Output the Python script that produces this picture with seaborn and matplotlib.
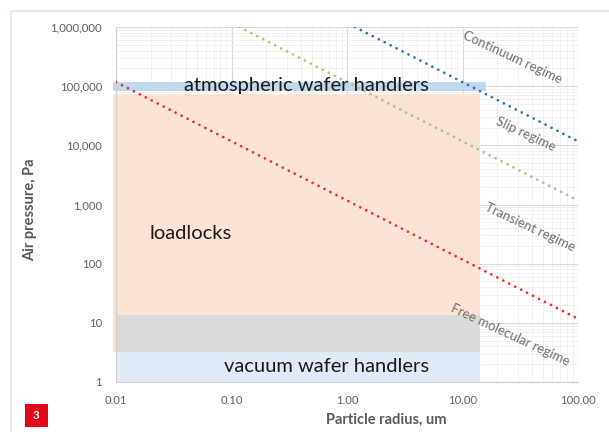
import matplotlib
matplotlib.use("Agg")
import matplotlib.pyplot as plt
import matplotlib.ticker as mticker
from matplotlib.patches import Rectangle
import numpy as np
import pandas as pd
import seaborn as sns

# ---- data ----
red_r = [0.01, 100]
red_p = [117000, 11.7]
green_r = [0.117, 100]
green_p = [1000000, 1170]
blue_r = [1.17, 100]
blue_p = [1000000, 11700]

region_names = ["loadlocks", "atmospheric wafer handlers", "gray", "vacuum wafer handlers"]
region_r_min = [0.0094, 0.0094, 0.01, 0.01]
region_r_max = [14.2, 16.0, 14.2, 14.2]
region_p_min = [3.2, 83000, 3.2, 1.0]
region_p_max = [74000, 117000, 13.6, 3.2]

regime_labels = ["Continuum regime", "Slip regime", "Transient regime", "Free molecular regime"]

x_ticks = [0.01, 0.1, 1, 10, 100]
x_tick_labels = ["0.01", "0.10", "1.00", "10.00", "100.00"]
y_ticks = [1, 10, 100, 1000, 10000, 100000, 1000000]
y_tick_labels = ["1", "10", "100", "1,000", "10,000", "100,000", "1,000,000"]

sns.set_theme(style="white")
plt.rcParams['font.family'] = ['Lato', 'DejaVu Sans']

W, H = 609, 432
fig = plt.figure(figsize=(W / 100, H / 100), dpi=100)
ax = fig.add_axes([116 / W, 1 - 382 / H, (578 - 116) / W, (382 - 27) / H])
ax.set_xscale("log")
ax.set_yscale("log")
ax.set_xlim(0.01, 100)
ax.set_ylim(1, 1e6)

# outer light-blue frame
fig.patches.append(Rectangle((11 / W, -0.2), 1.2, 1 - 11 / H + 0.2, transform=fig.transFigure,
                             fill=False, edgecolor="#dbe7f7", linewidth=1.2, zorder=0))

# grid
ax.grid(True, which="major", color="#d9d9d9", linewidth=0.8, zorder=0)
ax.grid(True, which="minor", color="#efefef", linewidth=0.6, zorder=0)
ax.xaxis.set_minor_locator(mticker.LogLocator(base=10, subs=np.arange(2, 10), numticks=20))
ax.yaxis.set_minor_locator(mticker.LogLocator(base=10, subs=np.arange(2, 10), numticks=20))
ax.set_axisbelow(True)

# regions
region_colors = ["#fbe2d3", "#bcd6ee", "#dadada", "#deeaf7"]
region_z = [1, 2, 2, 2]
for name, r0, r1, p0, p1, c, z in zip(region_names, region_r_min, region_r_max, region_p_min, region_p_max,
                                       region_colors, region_z):
    ax.add_patch(Rectangle((r0, p0), r1 - r0, p1 - p0, facecolor=c, edgecolor="none",
                           alpha=0.92, zorder=z, clip_on=False))

# regime boundary lines
dot = (0, (0.01, 2.4))
for rr, pp, col in [(blue_r, blue_p, "#2e6fc2"), (green_r, green_p, "#a8c585"), (red_r, red_p, "#ee2a2a")]:
    df = pd.DataFrame({"r": rr, "p": pp})
    sns.lineplot(data=df, x="r", y="p", ax=ax, color=col, linewidth=2.0,
                 linestyle=dot, dash_capstyle="round", zorder=4)

ax.set_xlabel("")
ax.set_ylabel("")

# ticks
ax.set_xticks(x_ticks)
ax.set_xticklabels(x_tick_labels)
ax.set_yticks(y_ticks)
ax.set_yticklabels(y_tick_labels)
ax.xaxis.set_minor_formatter(mticker.NullFormatter())
ax.yaxis.set_minor_formatter(mticker.NullFormatter())
ax.tick_params(axis="both", which="both", length=0, labelsize=8.2, labelcolor="#606060")
ax.tick_params(axis="x", pad=9)
ax.tick_params(axis="y", pad=10)

for s in ["top", "right"]:
    ax.spines[s].set_visible(False)
for s in ["left", "bottom"]:
    ax.spines[s].set_color("#cfcfcf")
    ax.spines[s].set_linewidth(0.8)

# region texts
def px(x, y):
    return x / W, 1 - y / H

fig.text(*px(306, 86), "atmospheric wafer handlers", fontsize=14.5, color="#1a1a1a",
         ha="center", va="center", zorder=6)
fig.text(*px(191, 234), "loadlocks", fontsize=14.5, color="#1a1a1a", ha="center", va="center")
fig.text(*px(327, 366), "vacuum wafer handlers", fontsize=14.5, color="#1a1a1a", ha="center", va="center")

# regime texts
for lab, (cx, cy) in zip(regime_labels, [(512, 57), (526, 134), (530, 227), (510, 335)]):
    fig.text(*px(cx, cy), lab, fontsize=9.5, color="#707070", rotation=-25,
             ha="center", va="center", rotation_mode="anchor")

# axis labels
fig.text(*px(30, 210), "Air pressure, Pa", fontsize=10.5, fontweight="bold", color="#595959",
         rotation=90, ha="center", va="center")
fig.text(*px(386, 420), "Particle radius, um", fontsize=10.5, fontweight="bold", color="#595959",
         ha="center", va="center")

# figure number badge
fig.patches.append(Rectangle((25 / W, 1 - 427 / H), 23 / W, 23 / H, transform=fig.transFigure,
                             facecolor="#e2051a", edgecolor="none"))
fig.text(*px(36.5, 415.5), "3", fontsize=8.5, fontweight="bold", color="white", ha="center", va="center")

fig.savefig("out.png", dpi=100)
